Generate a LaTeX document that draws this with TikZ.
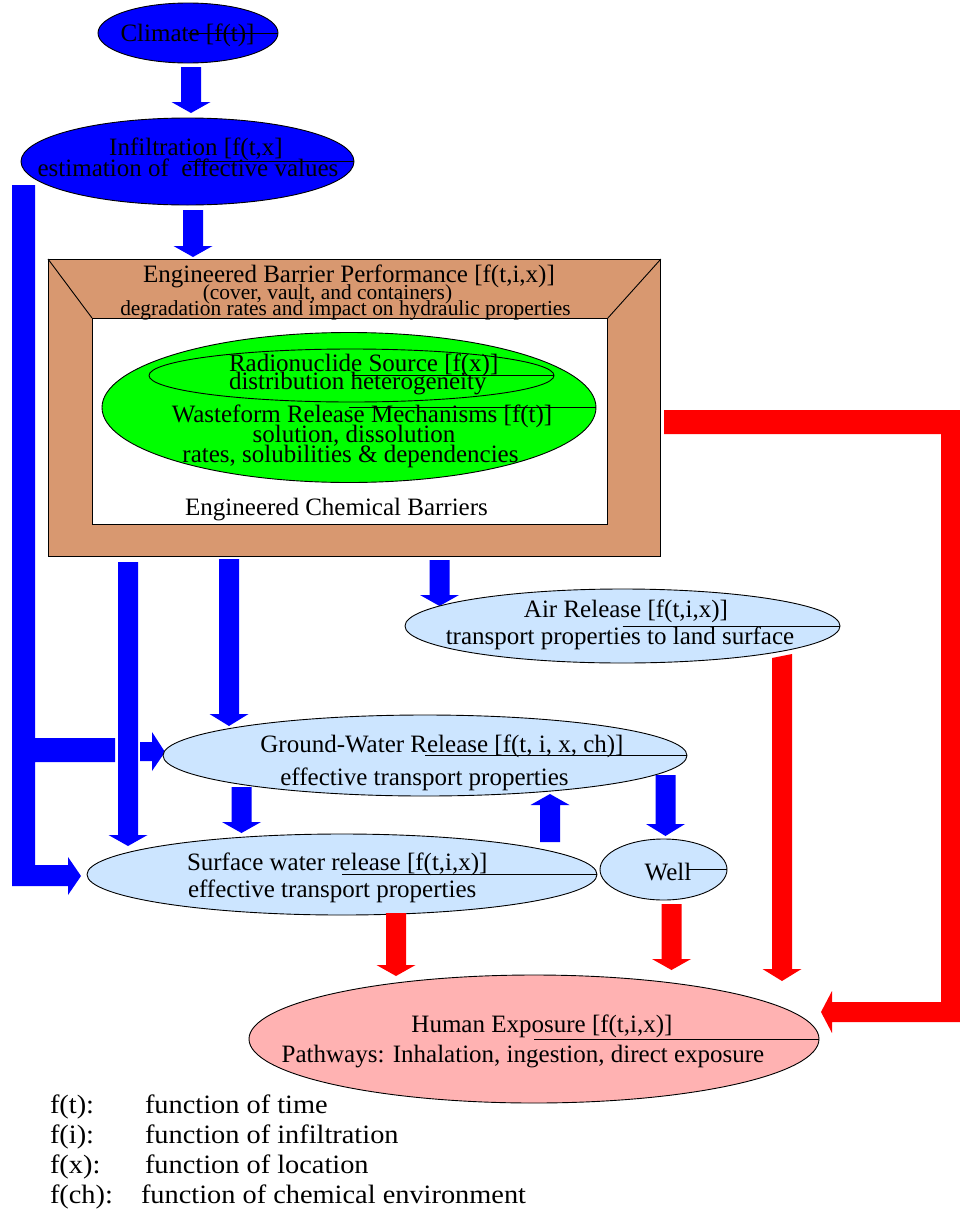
\documentclass[tikz,border=0pt]{standalone}
\usepackage{fontspec}
\setmainfont{Liberation Serif}
\usetikzlibrary{shapes.geometric}
\definecolor{ebptan}{RGB}{216,152,112}
\definecolor{ltblue}{RGB}{204,229,255}
\definecolor{pinkh}{RGB}{255,178,178}
\definecolor{grn}{RGB}{0,255,0}
\newcommand\fs[1]{\fontsize{#1}{#1}\selectfont}
% block arrow: colour, x centre, start y, head-base y, tip y
\newcommand\myvarrow[5]{\fill[#1] (#2-10,#3) -- (#2+10,#3) -- (#2+10,#4) -- (#2+19.5,#4) -- (#2,#5) -- (#2-19.5,#4) -- (#2-10,#4) -- cycle;}
\begin{document}
\begin{tikzpicture}[x=1pt,y=-1pt,
  ell/.style={ellipse,draw=black,line width=0.9pt,inner sep=0pt,outer sep=0pt},
  txt/.style={inner sep=0pt,outer sep=0pt,anchor=base,font=\fs{25}},
  txtl/.style={inner sep=0pt,outer sep=0pt,anchor=base west,font=\fs{25}},
  legtxt/.style={inner sep=0pt,outer sep=0pt,anchor=base west,font=\fs{26.5}},
  radius line/.style={line width=0.9pt}]
\useasboundingbox (0,0) rectangle (960,1210);

% ---------- climate & infiltration
\node[ell,fill=blue,minimum width=180pt,minimum height=60pt] (climate) at (188,33) {};
\draw[radius line] (climate.center) -- (climate.east);
\node[txt] (tclim) at (187.5,41) {Climate [f(t)]};

\myvarrow{blue}{191}{67}{102}{113}

\node[ell,fill=blue,minimum width=333pt,minimum height=87pt] (infil) at (187.5,161.5) {};
\draw[radius line] (infil.center) -- (infil.east);
\node[txt] (tinf1) at (196,155) {Infiltration [f(t,x]};
\node[txt] (tinf2) at (188,176) {estimation of~ effective values};

\myvarrow{blue}{193}{210}{246}{257}

% ---------- engineered barrier box
\node[draw=black,line width=0.9pt,fill=ebptan,minimum width=612pt,minimum height=297pt,anchor=north west,inner sep=0pt] (ebp) at (48,259) {};
\node[draw=black,line width=0.9pt,fill=white,minimum width=515pt,minimum height=206pt,anchor=north west,inner sep=0pt] (ecb) at (92,318) {};
\draw[line width=0.9pt] (ebp.north west) -- (ecb.north west);
\draw[line width=0.9pt] (ebp.north east) -- (ecb.north east);
\node[txt] (tebp1) at (349,282) {Engineered Barrier Performance [f(t,i,x)]};
\node[txt,font=\fs{21.4}] (tebp2) at (327.5,299) {(cover, vault, and containers)};
\node[txt,font=\fs{21.4}] (tebp3) at (345.5,315) {degradation rates and impact on hydraulic properties};

\node[ell,fill=grn,minimum width=494pt,minimum height=150pt] (waste) at (349,407.5) {};
\draw[radius line] (waste.center) -- (waste.east);
\node[ell,minimum width=405pt,minimum height=53pt] (source) at (351.5,375.5) {};
\draw[radius line] (source.center) -- (source.east);
\node[txtl] (tsrc1) at (229,371) {Radionuclide Source [f(x)]};
\node[txtl] (tsrc2) at (229,389) {distribution heterogeneity};
\node[txt] (tw1) at (362,422) {Wasteform Release Mechanisms [f(t)]};
\node[txt] (tw2) at (354,442) {solution, dissolution};
\node[txt] (tw3) at (350.5,462) {rates, solubilities \& dependencies};
\node[txt] (tecb) at (336.5,515) {Engineered Chemical Barriers};

% ---------- red return arrow from barrier box to human exposure
\fill[red] (664,410) -- (960,410) -- (960,1022) -- (832,1022) -- (832,1033) -- (821,1012) -- (832,991) -- (832,1002) -- (941,1002) -- (941,434) -- (664,434) -- cycle;

% ---------- left blue bar from infiltration
\fill[blue] (12,185) -- (35,185) -- (35,738) -- (115,738) -- (115,762) -- (35,762) -- (35,865) -- (68,865) -- (68,857) -- (81,876) -- (68,895) -- (68,886) -- (12,886) -- cycle;
\fill[blue] (140,742) -- (152,742) -- (152,732) -- (165,752) -- (152,771) -- (152,761) -- (140,761) -- cycle;

% ---------- arrows out of barrier box
\myvarrow{blue}{128}{562}{835}{846}
\myvarrow{blue}{229}{559}{714}{726}
\myvarrow{blue}{439.5}{560}{595}{606}

% ---------- air release
\node[ell,fill=ltblue,minimum width=435pt,minimum height=74pt] (air) at (622.5,626) {};
\draw[radius line] (air.center) -- (air.east);
\node[txt] (tair1) at (626,617) {Air Release [f(t,i,x)]};
\node[txt] (tair2) at (620,644) {transport properties to land surface};

% ---------- ground water
\node[ell,fill=ltblue,minimum width=524pt,minimum height=81pt] (gw) at (425,755.5) {};
\draw[radius line] (gw.center) -- (gw.east);
\node[txt] (tgw1) at (442,752) {Ground-Water Release [f(t, i, x, ch)]};
\node[txt] (tgw2) at (424.5,785) {effective transport properties};

\myvarrow{blue}{241.5}{787}{822}{833}
\myvarrow{blue}{550}{842}{805}{794}
\myvarrow{blue}{665.5}{775}{824}{836}

% ---------- surface water & well
\node[ell,fill=ltblue,minimum width=510pt,minimum height=81pt] (sw) at (342,874.5) {};
\draw[radius line] (sw.center) -- (sw.east);
\node[txtl] (tsw1) at (187,870) {Surface water release [f(t,i,x)]};
\node[txtl] (tsw2) at (188,897) {effective transport properties};

\node[ell,fill=ltblue,minimum width=127pt,minimum height=61pt] (well) at (663.5,869.5) {};
\coordinate (wellmid) at (688,869.5);
\draw[radius line] (wellmid) -- (well.east);
\node[txt] (twell) at (668,880) {Well};

% ---------- red arrows to human exposure
\myvarrow{red}{396}{913}{965}{976}
\myvarrow{red}{671.5}{904}{959}{970}
\fill[red] (772,658) -- (792,654) -- (792,969) -- (801.5,969) -- (782,981) -- (762.5,969) -- (772,969) -- cycle;

% ---------- human exposure
\node[ell,fill=pinkh,minimum width=570pt,minimum height=128pt] (human) at (534,1039) {};
\draw[radius line] (human.center) -- (human.east);
\node[txt] (th1) at (542,1032) {Human Exposure [f(t,i,x)]};
\node[txt] (th2) at (523,1062) {Pathways: Inhalation, ingestion, direct exposure};

% ---------- legend
\node[legtxt] (l1a) at (50,1113) {\scalebox{1.07}[1]{f(t):}};
\node[legtxt] (l1b) at (145,1113) {\scalebox{1.07}[1]{function of time}};
\node[legtxt] (l2a) at (50,1143) {\scalebox{1.07}[1]{f(i):}};
\node[legtxt] (l2b) at (145,1143) {\scalebox{1.07}[1]{function of infiltration}};
\node[legtxt] (l3a) at (50,1173) {\scalebox{1.07}[1]{f(x):}};
\node[legtxt] (l3b) at (145,1173) {\scalebox{1.07}[1]{function of location}};
\node[legtxt] (l4a) at (50,1203) {\scalebox{1.07}[1]{f(ch):}};
\node[legtxt] (l4b) at (141,1203) {\scalebox{1.07}[1]{function of chemical environment}};
\end{tikzpicture}
\end{document}
